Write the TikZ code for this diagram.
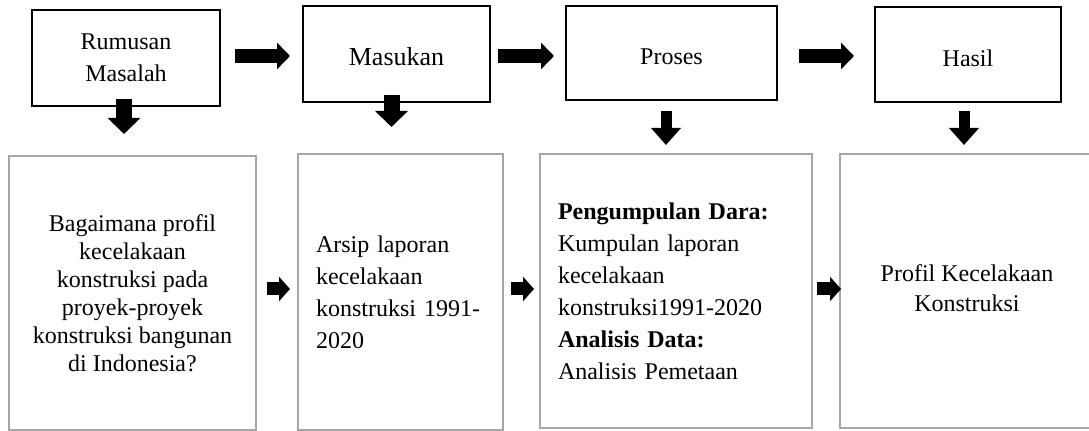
\documentclass[tikz,border=0pt]{standalone}
\usepackage{fontspec}
\setmainfont{Liberation Serif}
\usetikzlibrary{arrows.meta}
\definecolor{boxgray}{HTML}{A6A6A6}
\tikzset{
  topbox/.style={draw=black, line width=1pt, inner sep=0pt, align=center},
  onelinetext/.style={text height=12pt, text depth=0pt},
  botbox/.style={draw=boxgray, line width=1pt, inner sep=0pt},
  harrow/.style={line width=7pt, -{Triangle[length=6.5pt, width=13pt]}},
  bigdown/.style={line width=8pt, -{Triangle[length=8pt, width=16pt]}},
  smalldown/.style={line width=5.5pt, -{Triangle[length=8.5pt, width=14.5pt]}},
  minarrow/.style={line width=6.5pt, -{Triangle[length=5.5pt, width=12pt]}},
}
\begin{document}
\begin{tikzpicture}[x=0.5pt, y=-0.5pt]
\useasboundingbox (0,0) rectangle (1089,431);

% top row
\node[topbox, minimum width=94pt, minimum height=48pt,
      font={\fontsize{12}{16}\selectfont}] (b1) at (126,58) {Rumusan\\Masalah};
\node[topbox, onelinetext, minimum width=93.5pt, minimum height=48pt,
      font={\fontsize{13}{15}\selectfont}] (b2) at (396.5,54) {Masukan};
\node[topbox, onelinetext, minimum width=105.5pt, minimum height=47pt,
      font={\fontsize{12}{14}\selectfont}] (b3) at (671.5,53) {Proses};
\node[topbox, onelinetext, minimum width=93pt, minimum height=47.5pt,
      font={\fontsize{12}{14}\selectfont}] (b4) at (968,54.5) {Hasil};

% bottom row
\node[botbox, minimum width=123.5pt, minimum height=137pt, align=center,
      font={\fontsize{12}{14}\selectfont}] (b5) at (132.5,293)
  {Bagaimana profil\\kecelakaan\\konstruksi pada\\proyek-proyek\\konstruksi bangunan\\di Indonesia?};
\node[botbox, minimum width=102.5pt, minimum height=138pt, inner xsep=9pt,
      text width=84.5pt, align=left,
      font={\fontsize{12}{16}\selectfont}] (b6) at (400.5,292)
  {Arsip laporan\\kecelakaan\\konstruksi 1991-\\2020};
\node[botbox, minimum width=136pt, minimum height=137pt, inner xsep=9pt,
      text width=118pt, align=left,
      font={\fontsize{12}{16}\selectfont}] (b7) at (676,291)
  {\textbf{Pengumpulan Dara:}\\Kumpulan laporan\\kecelakaan\\konstruksi1991-2020\\\textbf{Analisis Data:}\\Analisis Pemetaan};
% this box runs past the right edge of the picture
\node[botbox, minimum width=180pt, minimum height=137pt,
      font={\fontsize{12}{15}\selectfont}] (b8) at (1020,291)
  {\begin{tabular}{@{}c@{}}Profil Kecelakaan\\Konstruksi\end{tabular}\hspace*{53pt}};

% rows for horizontal arrows
\coordinate (rowA) at (0,56);
\coordinate (rowB) at (0,289);

% top horizontal arrows
\draw[harrow, shorten <=7pt, shorten >=6pt] (b1.east |- rowA) -- (b2.west |- rowA);
\draw[harrow, shorten <=3.5pt, shorten >=5.5pt] (b2.east |- rowA) -- (b3.west |- rowA);
\draw[harrow, shorten <=10.5pt, shorten >=10pt] (b3.east |- rowA) -- (b4.west |- rowA);

% down arrows
\draw[bigdown, shorten <=-4pt, shorten >=10.5pt] ([xshift=-1pt]b1.south) -- ([xshift=-1pt]b1.south |- b5.north);
\draw[bigdown, shorten <=-4pt, shorten >=13pt] ([xshift=-2.5pt]b2.south) -- ([xshift=-2.5pt]b2.south |- b6.north);
\draw[smalldown, shorten <=5pt, shorten >=4pt] ([xshift=-2.75pt]b3.south) -- ([xshift=-2.75pt]b3.south |- b7.north);
\draw[smalldown, shorten <=4pt, shorten >=4pt] ([xshift=-2pt]b4.south) -- ([xshift=-2pt]b4.south |- b8.north);

% bottom small arrows
\draw[minarrow, shorten <=5pt, shorten >=3.5pt] (b5.east |- rowB) -- (b6.west |- rowB);
\draw[minarrow, shorten <=3.5pt, shorten >=2.5pt] (b6.east |- rowB) -- (b7.west |- rowB);
\draw[minarrow, shorten <=2pt, shorten >=-1pt] (b7.east |- rowB) -- (b8.west |- rowB);
\end{tikzpicture}
\end{document}
